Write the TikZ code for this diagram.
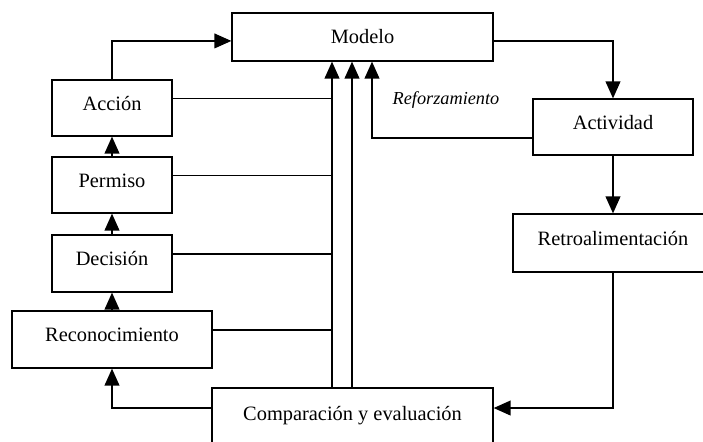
\documentclass[tikz,border=0pt]{standalone}
\usepackage{fontspec}
\setmainfont{Liberation Serif}
\usetikzlibrary{arrows.meta}
\begin{document}
\begin{tikzpicture}[x=0.025cm, y=-0.025cm, line width=0.9pt,
		>={Triangle[length=12pt,width=10.5pt]},
		caja/.style={draw, rectangle, inner sep=0pt, text height=10pt, text depth=7pt,
			font=\fontsize{14.5}{17}\selectfont}]
				\clip (0,0) rectangle (703,441);
				\coordinate (busA) at (332,0);
				\coordinate (busB) at (352,0);
				\coordinate (busR) at (372,0);
				\node[caja, minimum width=6.525cm, minimum height=1.2cm, text depth=0.5pt] (modelo) at (362.5,37) {Modelo};
				\node[caja, minimum width=3cm, minimum height=1.4cm] (accion) at (112,108) {Acción};
				\node[caja, minimum width=3cm, minimum height=1.4cm] (permiso) at (112,185) {Permiso};
				\node[caja, minimum width=3cm, minimum height=1.425cm] (decision) at (112,263.5) {Decisión};
				\node[caja, minimum width=5cm, minimum height=1.425cm] (reconocimiento) at (112,339.5) {Reconocimiento};
				\node[caja, minimum width=4cm, minimum height=1.4cm] (actividad) at (613,127) {Actividad};
				\node[caja, minimum width=5cm, minimum height=1.45cm] (retro) at (613,243) {Retroalimentación};
				\node[caja, minimum width=7.025cm, minimum height=1.5cm] (comparacion) at (352.5,418) {Comparación y evaluación};
				\node[font=\fontsize{13}{15}\selectfont\itshape] (refuerzo) at (446,100) {Reforzamiento};
				% cadena de la izquierda
				\draw[->] (reconocimiento.north) -- (decision.south);
				\draw[->] (decision.north) -- (permiso.south);
				\draw[->] (permiso.north) -- (accion.south);
				\draw[->] (accion.north) |- ([yshift=-2.8pt]modelo.west);
				% lineas hacia el bus
				\draw ([yshift=6.7pt]accion.east) -- ([yshift=6.7pt]accion.east -| busA);
				\draw ([yshift=6.7pt]permiso.east) -- ([yshift=6.7pt]permiso.east -| busA);
				\draw ([yshift=6.7pt]decision.east) -- ([yshift=6.7pt]decision.east -| busA);
				\draw ([yshift=6.7pt]reconocimiento.east) -- ([yshift=6.7pt]reconocimiento.east -| busA);
				\draw[->] (comparacion.north -| busA) -- (modelo.south -| busA);
				\draw[->] (comparacion.north -| busB) -- (modelo.south -| busB);
				% lado derecho
				\draw[->] ([yshift=-2.8pt]modelo.east) -| (actividad.north);
				\draw[->] ([yshift=-7.8pt]actividad.west) -| (modelo.south -| busR);
				\draw[->] (actividad.south) -- (retro.north);
				\draw[->] (retro.south) |- ([yshift=7.1pt]comparacion.east);
				\draw[->] ([yshift=7.1pt]comparacion.west) -| (reconocimiento.south);
			\end{tikzpicture}
\end{document}
